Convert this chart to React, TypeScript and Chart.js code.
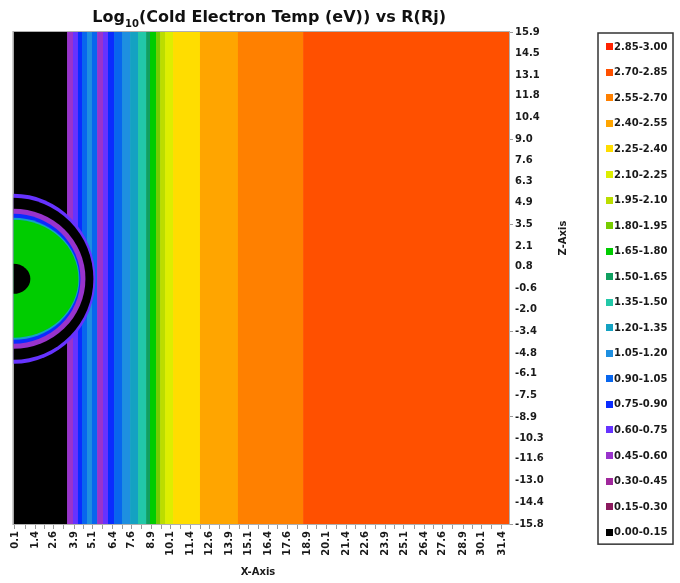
import React, { useEffect, useRef } from 'react';
import { Chart, registerables } from 'chart.js';
Chart.register(...registerables);

// ---- data ----
const levelLabels = [
  '0.00-0.15', '0.15-0.30', '0.30-0.45', '0.45-0.60', '0.60-0.75',
  '0.75-0.90', '0.90-1.05', '1.05-1.20', '1.20-1.35', '1.35-1.50',
  '1.50-1.65', '1.65-1.80', '1.80-1.95', '1.95-2.10', '2.10-2.25',
  '2.25-2.40', '2.40-2.55', '2.55-2.70', '2.70-2.85', '2.85-3.00',
];
const levelColors = [
  '#000000', '#8b1a5e', '#a0289c', '#9933cc', '#6633ff',
  '#0a2cff', '#0866ee', '#1e8fe0', '#14a2c2', '#22c8a8',
  '#10a060', '#00cc00', '#77cc00', '#bbdd00', '#ddee00',
  '#ffdd00', '#ffa500', '#ff8000', '#ff5000', '#ff2200',
];
// vertical contour bands: start x (Rj) and level index
const stripeStartX = [0, 3.45, 3.83, 4.15, 4.41, 4.73, 5.05, 5.38, 5.76, 6.08, 6.47, 6.98, 7.5, 8.01, 8.53, 8.78, 9.17, 9.43, 9.75, 10.26, 11.99, 14.43, 18.62];
const stripeLevel = [0, 3, 4, 5, 6, 7, 6, 3, 4, 5, 6, 7, 8, 9, 10, 11, 12, 13, 14, 15, 16, 17, 18];
// rings around the planet (centre 0,0), outer to inner
const ringRadiusX = [5.27, 5.14, 4.63, 4.31, 4.24, 4.18, 1.09];
const ringRadiusZ = [5.48, 5.22, 4.51, 4.19, 3.93, 3.8, 0.97];
const ringLevel = [4, 0, 3, 5, 8, 11, 0];

const xTickLabels = ['0.1', '1.4', '2.6', '3.9', '5.1', '6.4', '7.6', '8.9', '10.1', '11.4', '12.6', '13.9', '15.1', '16.4', '17.6', '18.9', '20.1', '21.4', '22.6', '23.9', '25.1', '26.4', '27.6', '28.9', '30.1', '31.4'];
const zTickLabels = ['15.9', '14.5', '13.1', '11.8', '10.4', '9.0', '7.6', '6.3', '4.9', '3.5', '2.1', '0.8', '-0.6', '-2.0', '-3.4', '-4.8', '-6.1', '-7.5', '-8.9', '-10.3', '-11.6', '-13.0', '-14.4', '-15.8'];
const zMajorTicks = ['15.9', '9.0', '3.5', '-3.4', '-8.9', '-15.8'];

const X_MIN = 0;
const X_MAX = 31.85;
const Z_MIN = -15.8;
const Z_MAX = 15.9;

const FONT = 'DejaVu Sans';

// ticks for x: labelled ticks and unlabelled mid ticks
const xTickValues: number[] = [];
const xTickTexts: string[] = [];
xTickLabels.forEach((l, i) => {
  const v = parseFloat(l);
  xTickValues.push(v);
  xTickTexts.push(l);
  if (i < xTickLabels.length - 1) {
    const m = (v + parseFloat(xTickLabels[i + 1])) / 2;
    xTickValues.push(m);
    xTickTexts.push('');
  }
});

const fieldPlugin = {
  id: 'field',
  beforeDatasetsDraw(chart: any) {
    const { ctx, chartArea } = chart;
    const xs = chart.scales.x;
    const ys = chart.scales.y;
    const { left, right, top, bottom } = chartArea;
    ctx.save();
    ctx.beginPath();
    ctx.rect(left, top, right - left, bottom - top);
    ctx.clip();
    for (let i = 0; i < stripeStartX.length; i++) {
      const x0 = xs.getPixelForValue(stripeStartX[i]);
      const x1 = i + 1 < stripeStartX.length ? xs.getPixelForValue(stripeStartX[i + 1]) : right;
      ctx.fillStyle = levelColors[stripeLevel[i]];
      ctx.fillRect(x0, top, x1 - x0 + 0.6, bottom - top);
    }
    const cx = xs.getPixelForValue(0);
    const cy = ys.getPixelForValue(0);
    for (let i = 0; i < ringLevel.length; i++) {
      const rx = xs.getPixelForValue(ringRadiusX[i]) - cx;
      const ry = cy - ys.getPixelForValue(ringRadiusZ[i]);
      ctx.beginPath();
      ctx.ellipse(cx, cy, rx, ry, 0, 0, Math.PI * 2);
      ctx.fillStyle = levelColors[ringLevel[i]];
      ctx.fill();
    }
    ctx.restore();
  },
  afterDraw(chart: any) {
    const { ctx, chartArea } = chart;
    const { left, right, top, bottom } = chartArea;
    ctx.save();
    // frame
    ctx.strokeStyle = '#b0b0b0';
    ctx.lineWidth = 1;
    ctx.strokeRect(left - 0.5, top - 0.5, right - left + 1, bottom - top + 1);

    // title
    const cxT = (left + right) / 2 + 8;
    const big = `bold 16px "${FONT}"`;
    const small = `bold 10px "${FONT}"`;
    const p1 = 'Log';
    const p2 = '10';
    const p3 = '(Cold Electron Temp (eV)) vs R(Rj)';
    ctx.font = big;
    const w1 = ctx.measureText(p1).width;
    const w3 = ctx.measureText(p3).width;
    ctx.font = small;
    const w2 = ctx.measureText(p2).width;
    let x = cxT - (w1 + w2 + w3) / 2;
    ctx.fillStyle = '#111';
    ctx.textBaseline = 'alphabetic';
    ctx.textAlign = 'left';
    ctx.font = big;
    ctx.fillText(p1, x, 22);
    x += w1;
    ctx.font = small;
    ctx.fillText(p2, x, 27);
    x += w2;
    ctx.font = big;
    ctx.fillText(p3, x, 22);

    // axis titles
    ctx.font = `bold 10px "${FONT}"`;
    ctx.fillStyle = '#1a1a1a';
    ctx.textAlign = 'center';
    ctx.textBaseline = 'middle';
    ctx.fillText('X-Axis', 258, 572);
    ctx.save();
    ctx.translate(563, 238);
    ctx.rotate(-Math.PI / 2);
    ctx.fillText('Z-Axis', 0, 0);
    ctx.restore();

    // legend
    const rowH = 25.55;
    const firstY = 46.7;
    const boxTop = 33;
    const boxBottom = firstY + rowH * (levelLabels.length - 1) + 12;
    ctx.strokeStyle = '#333';
    ctx.lineWidth = 1.5;
    ctx.strokeRect(598, boxTop, 75, boxBottom - boxTop);
    ctx.textAlign = 'left';
    ctx.textBaseline = 'middle';
    ctx.font = `bold 10px "${FONT}"`;
    for (let i = 0; i < levelLabels.length; i++) {
      const lvl = levelLabels.length - 1 - i;
      const y = firstY + rowH * i;
      ctx.fillStyle = levelColors[lvl];
      ctx.fillRect(606, Math.round(y - 3.5), 7, 7);
      ctx.fillStyle = '#1a1a1a';
      ctx.fillText(levelLabels[lvl], 614, y + 0.5);
    }
    ctx.restore();
  },
};

export default function App() {
  const ref = useRef<HTMLCanvasElement | null>(null);
  useEffect(() => {
    if (!ref.current) return;
    const zMajorIdx = new Set(zMajorTicks.map((t) => zTickLabels.indexOf(t)));
    const chart = new Chart(ref.current, {
      type: 'scatter',
      data: { datasets: [] },
      options: {
        animation: false,
        responsive: false,
        layout: { padding: { left: 13.4, top: 32, right: 0, bottom: 0 } },
        plugins: {
          legend: { display: false },
          title: { display: false },
          tooltip: { enabled: false },
        },
        scales: {
          x: {
            type: 'linear',
            position: 'bottom',
            min: X_MIN,
            max: X_MAX,
            afterBuildTicks: (s: any) => {
              s.ticks = xTickValues.map((v) => ({ value: v }));
            },
            afterFit: (s: any) => {
              s.height = 59;
            },
            ticks: {
              autoSkip: false,
              minRotation: 90,
              maxRotation: 90,
              padding: 2,
              color: '#1a1a1a',
              font: { family: FONT, size: 10, weight: 'bold' },
              callback: (_v: any, i: number) => xTickTexts[i],
            },
            grid: { drawOnChartArea: false, tickLength: 5, tickColor: '#9a9a9a' },
            border: { display: false },
          },
          y: {
            type: 'linear',
            position: 'right',
            min: Z_MIN,
            max: Z_MAX,
            afterBuildTicks: (s: any) => {
              s.ticks = zTickLabels.map((l) => ({ value: parseFloat(l) }));
            },
            afterFit: (s: any) => {
              s.width = 171;
            },
            ticks: {
              autoSkip: false,
              padding: 2,
              color: '#1a1a1a',
              font: { family: FONT, size: 10, weight: 'bold' },
              callback: (_v: any, i: number) => zTickLabels[i],
            },
            grid: {
              drawOnChartArea: false,
              tickLength: 4,
              tickColor: (c: any) => (zMajorIdx.has(c.index) ? '#9a9a9a' : 'rgba(0,0,0,0)'),
            },
            border: { display: false },
          },
        },
      },
      plugins: [fieldPlugin],
    } as any);
    return () => chart.destroy();
  }, []);
  return (
    <div style={{ position: 'absolute', left: 0, top: 0, width: 680, height: 583, background: '#fff' }}>
      <canvas ref={ref} width={680} height={583} style={{ display: 'block' }} />
    </div>
  );
}
